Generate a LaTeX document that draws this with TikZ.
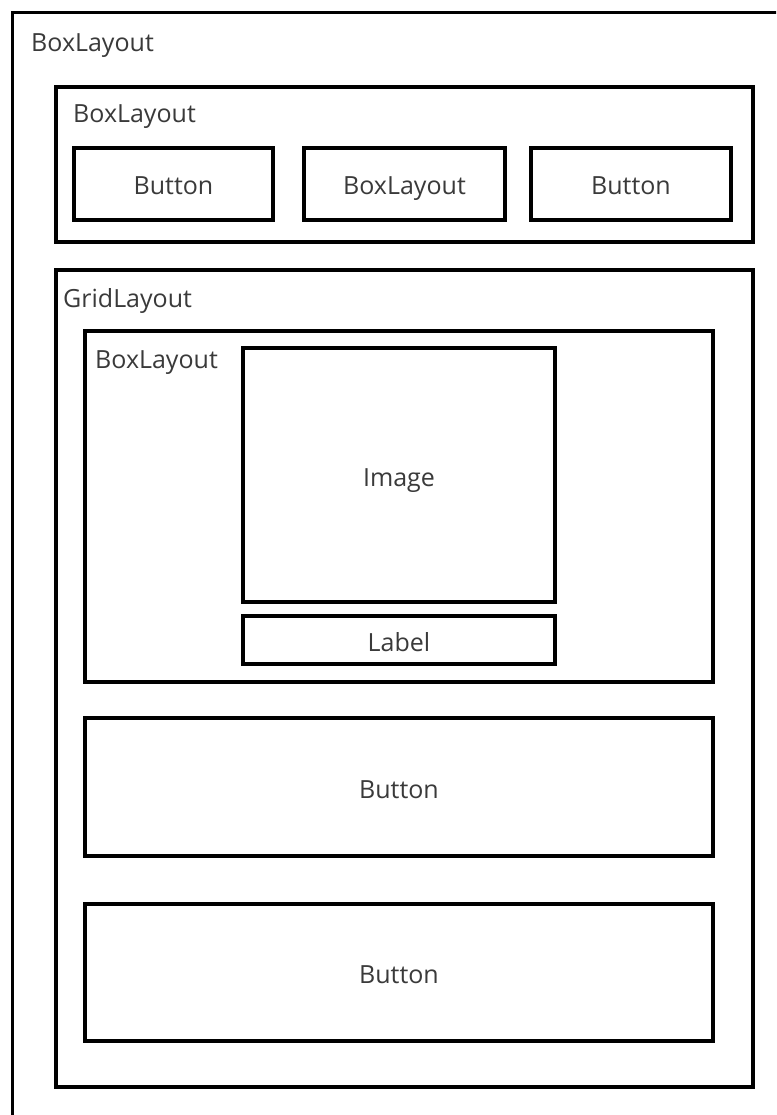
\documentclass[tikz,border=0pt]{standalone}
\usepackage{fontspec}
\setmainfont{Open Sans}
\definecolor{txt}{HTML}{3A3A3A}
\tikzset{
  box/.style={draw=black, line width=3.2pt, inner sep=0pt, fill=none},
  lbl/.style={text=txt, inner sep=0pt, anchor=base west, font=\fontsize{25}{30}\selectfont},
  ctext/.style={text=txt, inner sep=0pt, text height=22pt, text depth=0pt, font=\fontsize{25}{30}\selectfont},
}
\newcommand{\boxnode}[5]{% name, x1, y1, x2, y2
  \node[box, minimum width={(#4-#2)*1pt}, minimum height={(#5-#3)*1pt}] (#1) at ({(#2+#4)/2},{(#3+#5)/2}) {};
}
\begin{document}
\begin{tikzpicture}[x=1pt,y=-1pt]
\useasboundingbox (0,0) rectangle (776,1115);
\clip (0,0) rectangle (776,1115);
\fill[white] (0,0) rectangle (776,1115);
% outer (cut by picture edge)
\boxnode{outer}{12.5}{12.5}{800}{1140}
\node[lbl] (outerlbl) at (31,52) {BoxLayout};
% top box layout
\boxnode{top}{56}{87}{753}{242}
\node[lbl] (toplbl) at (73,123) {BoxLayout};
\boxnode{b1}{74}{148}{273}{220}
\boxnode{b2}{304}{148}{505}{220}
\boxnode{b3}{531}{148}{731}{220}
\node[ctext] (t1) at (b1) {Button};
\node[ctext] (t2) at (b2) {BoxLayout};
\node[ctext] (t3) at (b3) {Button};
% grid layout
\boxnode{grid}{56}{270}{753}{1087}
\node[lbl] (gridlbl) at (63,307) {GridLayout};
\boxnode{inner}{85}{331}{713}{682}
\node[lbl] (innerlbl) at (95,368) {BoxLayout};
\boxnode{img}{243}{348}{555}{602}
\node[ctext] (timg) at (img) {Image};
\boxnode{lab}{243}{616}{555}{664}
\node[ctext] (tlab) at (lab) {Label};
\boxnode{bA}{85}{718}{713}{856}
\node[ctext] (tA) at (bA) {Button};
\boxnode{bB}{85}{904}{713}{1041}
\node[ctext] (tB) at (bB) {Button};
\end{tikzpicture}
\end{document}
